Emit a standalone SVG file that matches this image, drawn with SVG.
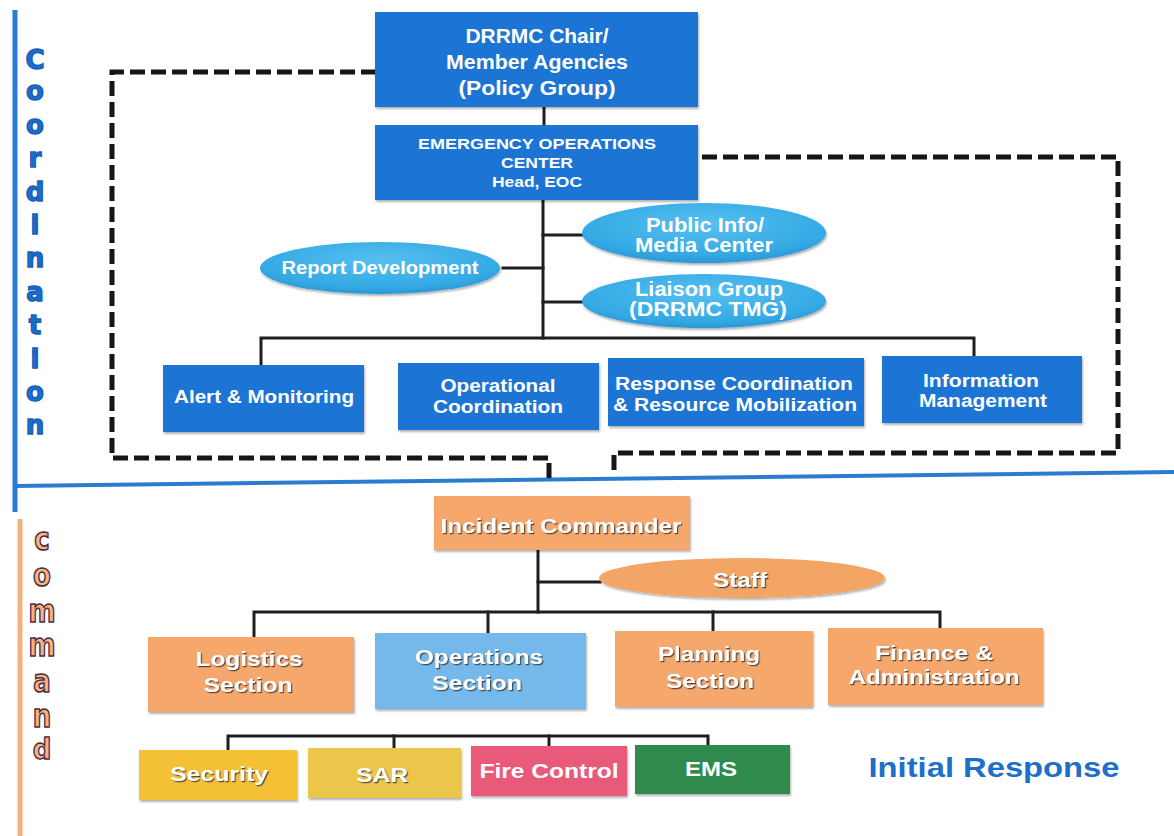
<svg xmlns="http://www.w3.org/2000/svg" width="1174" height="836" viewBox="0 0 1174 836">
<defs>
<style>
.bx{fill:#1c74d4}
.t{font-family:"Liberation Sans",Arial,sans-serif;font-weight:bold;fill:#fff;text-anchor:middle}
.ts{filter:url(#tsh)}
.con{stroke:#1e1e1e;stroke-width:3;fill:none;stroke-linecap:square}
.dash{stroke:#161616;stroke-width:5;fill:none;stroke-dasharray:15 6}
.vc{font-family:"DejaVu Sans","Liberation Sans",sans-serif;font-weight:bold;text-anchor:middle}
.co{font-size:26px;fill:#1a6dcc;stroke:#1a5fb8;stroke-width:1.4}
.cm{font-size:26px;fill:#f5b57c;stroke:#4e2c4a;stroke-width:1.3}
.ell{fill:url(#eg)}
</style>
<radialGradient id="eg" cx="0.5" cy="0.35" r="0.65">
<stop offset="0" stop-color="#56c0f0"/>
<stop offset="0.8" stop-color="#34a9e4"/>
<stop offset="1" stop-color="#2a98d6"/>
</radialGradient>
<filter id="sh" x="-5%" y="-10%" width="110%" height="130%">
<feDropShadow dx="1" dy="2" stdDeviation="1.2" flood-color="#000" flood-opacity="0.3"/>
</filter>
<filter id="tsh" x="-5%" y="-20%" width="110%" height="150%">
<feDropShadow dx="1.2" dy="1.2" stdDeviation="0.6" flood-color="#3a3030" flood-opacity="0.85"/>
</filter>
</defs>
<rect width="1174" height="836" fill="#fff"/>

<g id="frame">
<line x1="15" y1="10" x2="15" y2="512" stroke="#2a7cd0" stroke-width="5"/>
<line x1="15" y1="486" x2="1174" y2="472" stroke="#2a7cd0" stroke-width="4"/>
<line x1="20" y1="519" x2="20" y2="836" stroke="#f2b27a" stroke-width="5"/>
</g>

<g id="label-coordination">
<text class="vc co" x="35" y="69">C</text>
<text class="vc co" x="35" y="100">o</text>
<text class="vc co" x="35" y="134">o</text>
<text class="vc co" x="35" y="167">r</text>
<text class="vc co" x="35" y="201">d</text>
<text class="vc co" x="35" y="234">i</text>
<text class="vc co" x="35" y="267">n</text>
<text class="vc co" x="35" y="301">a</text>
<text class="vc co" x="35" y="334">t</text>
<text class="vc co" x="35" y="368">i</text>
<text class="vc co" x="35" y="401">o</text>
<text class="vc co" x="35" y="434">n</text>
</g>

<g id="label-command">
<text class="vc cm" transform="translate(42,550) scale(1,1.25)">c</text>
<text class="vc cm" transform="translate(42,586) scale(1,1.25)">o</text>
<text class="vc cm" transform="translate(42,622) scale(1,1.25)">m</text>
<text class="vc cm" transform="translate(42,656) scale(1,1.25)">m</text>
<text class="vc cm" transform="translate(42,692) scale(1,1.25)">a</text>
<text class="vc cm" transform="translate(42,727) scale(1,1.25)">n</text>
<text class="vc cm" transform="translate(42,759) scale(1,1.1)">d</text>
</g>

<g id="connectors">
<path class="dash" d="M376,72 H112 V458 H549 V480"/>
<path class="dash" d="M702,157 H1118 V453 H614 V476"/>
<line class="con" x1="544" y1="107" x2="544" y2="125"/>
<line class="con" x1="543" y1="200" x2="543" y2="338"/>
<line class="con" x1="543" y1="235" x2="582" y2="235"/>
<line class="con" x1="503" y1="268" x2="543" y2="268"/>
<line class="con" x1="543" y1="302" x2="582" y2="302"/>
<polyline class="con" points="261,365 261,338 974,338 974,356"/>
<line class="con" x1="538" y1="550" x2="538" y2="612"/>
<line class="con" x1="538" y1="582" x2="600" y2="582"/>
<polyline class="con" points="254,637 254,612 940,612 940,628"/>
<line class="con" x1="488" y1="612" x2="488" y2="633"/>
<line class="con" x1="713" y1="612" x2="713" y2="631"/>
<polyline class="con" points="228,750 228,736 708,736 708,745"/>
<line class="con" x1="394" y1="736" x2="394" y2="748"/>
<line class="con" x1="549" y1="736" x2="549" y2="746"/>
</g>

<g id="policy-group">
<rect class="bx" x="375" y="12" width="323" height="95" filter="url(#sh)"/>
<text class="t" x="537" y="43" font-size="20" textLength="143" lengthAdjust="spacingAndGlyphs">DRRMC Chair/</text>
<text class="t" x="537" y="69" font-size="20" textLength="182" lengthAdjust="spacingAndGlyphs">Member Agencies</text>
<text class="t" x="537" y="95" font-size="20" textLength="157" lengthAdjust="spacingAndGlyphs">(Policy Group)</text>
</g>

<g id="eoc">
<rect class="bx" x="375" y="125" width="323" height="75" filter="url(#sh)"/>
<text class="t" x="537" y="149" font-size="15" textLength="238" lengthAdjust="spacingAndGlyphs">EMERGENCY OPERATIONS</text>
<text class="t" x="537" y="168" font-size="15" textLength="72" lengthAdjust="spacingAndGlyphs">CENTER</text>
<text class="t" x="537" y="187" font-size="15" textLength="90" lengthAdjust="spacingAndGlyphs">Head, EOC</text>
</g>

<g id="public-info">
<ellipse class="ell" cx="704" cy="233" rx="122" ry="30" filter="url(#sh)"/>
<text class="t" x="705" y="232" font-size="20" textLength="118" lengthAdjust="spacingAndGlyphs">Public Info/</text>
<text class="t" x="704" y="252" font-size="20" textLength="138" lengthAdjust="spacingAndGlyphs">Media Center</text>
</g>

<g id="report-development">
<ellipse class="ell" cx="380" cy="268" rx="120" ry="26" filter="url(#sh)"/>
<text class="t" x="380" y="274" font-size="18" textLength="197" lengthAdjust="spacingAndGlyphs">Report Development</text>
</g>

<g id="liaison-group">
<ellipse class="ell" cx="704" cy="301" rx="122" ry="27" filter="url(#sh)"/>
<text class="t" x="709" y="296" font-size="20" textLength="148" lengthAdjust="spacingAndGlyphs">Liaison Group</text>
<text class="t" x="708" y="316" font-size="20" textLength="158" lengthAdjust="spacingAndGlyphs">(DRRMC TMG)</text>
</g>

<g id="alert-monitoring">
<rect class="bx" x="163" y="365" width="201" height="67" filter="url(#sh)"/>
<text class="t" x="264" y="403" font-size="18" textLength="180" lengthAdjust="spacingAndGlyphs">Alert &amp; Monitoring</text>
</g>

<g id="operational-coordination">
<rect class="bx" x="398" y="363" width="201" height="67" filter="url(#sh)"/>
<text class="t" x="498" y="392" font-size="18" textLength="115" lengthAdjust="spacingAndGlyphs">Operational</text>
<text class="t" x="498" y="413" font-size="18" textLength="130" lengthAdjust="spacingAndGlyphs">Coordination</text>
</g>

<g id="response-coordination">
<rect class="bx" x="608" y="358" width="256" height="68" filter="url(#sh)"/>
<text class="t" x="734" y="390" font-size="18" textLength="238" lengthAdjust="spacingAndGlyphs">Response Coordination</text>
<text class="t" x="735" y="411" font-size="18" textLength="244" lengthAdjust="spacingAndGlyphs">&amp; Resource Mobilization</text>
</g>

<g id="information-management">
<rect class="bx" x="882" y="356" width="200" height="67" filter="url(#sh)"/>
<text class="t" x="981" y="387" font-size="18" textLength="116" lengthAdjust="spacingAndGlyphs">Information</text>
<text class="t" x="983" y="407" font-size="18" textLength="128" lengthAdjust="spacingAndGlyphs">Management</text>
</g>

<g id="incident-commander">
<rect x="434" y="496" width="256" height="54" fill="#f5a76c" filter="url(#sh)"/>
<text class="t ts" x="561" y="533" font-size="21" textLength="241" lengthAdjust="spacingAndGlyphs">Incident Commander</text>
</g>

<g id="staff">
<ellipse cx="742" cy="578" rx="143" ry="20" fill="#f3a565" filter="url(#sh)"/>
<text class="t ts" x="740" y="587" font-size="20" textLength="54" lengthAdjust="spacingAndGlyphs">Staff</text>
</g>

<g id="logistics-section">
<rect x="148" y="637" width="206" height="75" fill="#f5a76c" filter="url(#sh)"/>
<text class="t ts" x="249" y="666" font-size="21" textLength="107" lengthAdjust="spacingAndGlyphs">Logistics</text>
<text class="t ts" x="248" y="692" font-size="21" textLength="89" lengthAdjust="spacingAndGlyphs">Section</text>
</g>

<g id="operations-section">
<rect x="375" y="633" width="211" height="76" fill="#74b8ec" filter="url(#sh)"/>
<text class="t ts" x="479" y="664" font-size="21" textLength="128" lengthAdjust="spacingAndGlyphs">Operations</text>
<text class="t ts" x="477" y="690" font-size="21" textLength="90" lengthAdjust="spacingAndGlyphs">Section</text>
</g>

<g id="planning-section">
<rect x="615" y="631" width="198" height="76" fill="#f5a76c" filter="url(#sh)"/>
<text class="t ts" x="709" y="661" font-size="21" textLength="102" lengthAdjust="spacingAndGlyphs">Planning</text>
<text class="t ts" x="710" y="688" font-size="21" textLength="88" lengthAdjust="spacingAndGlyphs">Section</text>
</g>

<g id="finance-administration">
<rect x="828" y="628" width="215" height="77" fill="#f5a76c" filter="url(#sh)"/>
<text class="t ts" x="934" y="660" font-size="20" textLength="118" lengthAdjust="spacingAndGlyphs">Finance &amp;</text>
<text class="t ts" x="934" y="684" font-size="20" textLength="171" lengthAdjust="spacingAndGlyphs">Administration</text>
</g>

<g id="security">
<rect x="139" y="750" width="158" height="50" fill="#f4c034" filter="url(#sh)"/>
<text class="t ts" x="219" y="781" font-size="20" textLength="98" lengthAdjust="spacingAndGlyphs">Security</text>
</g>

<g id="sar">
<rect x="308" y="748" width="153" height="50" fill="#ebc64c" filter="url(#sh)"/>
<text class="t ts" x="382" y="782" font-size="20" textLength="52" lengthAdjust="spacingAndGlyphs">SAR</text>
</g>

<g id="fire-control">
<rect x="471" y="746" width="156" height="50" fill="#e95a7a" filter="url(#sh)"/>
<text class="t" x="549" y="778" font-size="20" textLength="139" lengthAdjust="spacingAndGlyphs">Fire Control</text>
</g>

<g id="ems">
<rect x="635" y="745" width="155" height="49" fill="#2f8b4d" filter="url(#sh)"/>
<text class="t" x="711" y="776" font-size="20" textLength="52" lengthAdjust="spacingAndGlyphs">EMS</text>
</g>

<g id="initial-response">
<text x="994" y="777" font-family="Liberation Sans, Arial, sans-serif" font-weight="bold" font-size="28" fill="#1e6fc8" text-anchor="middle" textLength="251" lengthAdjust="spacingAndGlyphs">Initial Response</text>
</g>
</svg>
